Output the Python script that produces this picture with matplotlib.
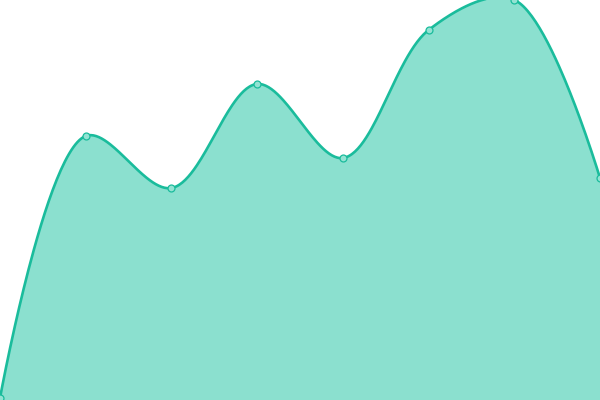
import numpy as np
import matplotlib
matplotlib.use("Agg")
import matplotlib.pyplot as plt

# values (0..100 scale)
steps = [0, 1, 2, 3, 4, 5, 6, 7]
values = [0.5, 66, 53, 79, 60.5, 92.5, 100, 55.5]

line_color = "#1abc9c"
fill_color = "#8be0cf"

W, H = 600, 400


def catmull_rom(px, py, alpha=0.5, n=60):
    # centripetal catmull-rom through the points (pixel space), as bezier pieces
    pts = np.column_stack([px, py]).astype(float)
    pts = np.vstack([pts, pts[-1:]])
    out = [pts[0]]
    t = np.linspace(0, 1, n)[1:, None]
    for i in range(len(pts) - 2):
        p0 = pts[i - 1] if i > 0 else None
        p1, p2, p3 = pts[i], pts[i + 1], pts[i + 2]
        l12 = np.hypot(*(p2 - p1)) ** alpha
        c1, c2 = p1.copy(), p2.copy()
        if p0 is not None:
            l01 = np.hypot(*(p1 - p0)) ** alpha
            if l01 > 1e-12:
                a = 2 * l01 ** 2 + 3 * l01 * l12 + l12 ** 2
                m = 3 * l01 * (l01 + l12)
                c1 = (p1 * a - p0 * l12 ** 2 + p2 * l01 ** 2) / m
        l23 = np.hypot(*(p3 - p2)) ** alpha
        if l23 > 1e-12:
            b = 2 * l23 ** 2 + 3 * l23 * l12 + l12 ** 2
            m = 3 * l23 * (l23 + l12)
            c2 = (p2 * b + p1 * l23 ** 2 - p3 * l12 ** 2) / m
        seg = ((1 - t) ** 3) * p1 + 3 * ((1 - t) ** 2) * t * c1 \
            + 3 * (1 - t) * t ** 2 * c2 + t ** 3 * p2
        out.extend(seg)
    return np.array(out)


fig = plt.figure(figsize=(6, 4), dpi=100)
ax = fig.add_axes([0, 0, 1, 1])

xmax, ymax = len(steps) - 1, 100
sx, sy = W / xmax, H / ymax
curve = catmull_rom(np.array(steps) * sx, np.array(values) * sy)
xs, ys = curve[:, 0] / sx, curve[:, 1] / sy

ax.fill_between(xs, 0, ys, color=fill_color, linewidth=0)
ax.plot(xs, ys, color=line_color, linewidth=1.9, solid_capstyle="round")
ax.plot(steps, values, "o", markersize=5, markerfacecolor="#93e3d3",
        markeredgecolor=line_color, markeredgewidth=0.9)

ax.set_xlim(0, xmax)
ax.set_ylim(0, ymax)
ax.axis("off")

fig.savefig("out.png", dpi=100)
